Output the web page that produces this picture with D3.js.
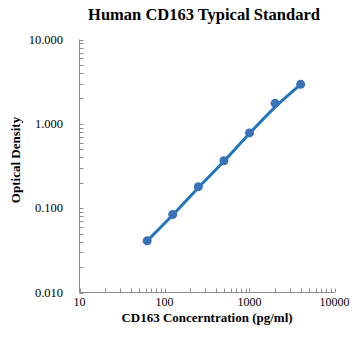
<!DOCTYPE html>
<html><head><meta charset="utf-8">
<script src="https://cdn.jsdelivr.net/npm/d3@7"></script>
<style>body{margin:0;background:#fff}svg{display:block}</style>
</head><body>
<svg id="c" width="364" height="341"></svg>
<script>
const concentrations = [62.5, 125, 250, 500, 1000, 2000, 4000];
const odValues = [0.041, 0.084, 0.18, 0.365, 0.78, 1.75, 2.94];
const fitValues = [0.041, 0.083, 0.175, 0.36, 0.77, 1.58, 2.94];
const xTickValues = [10, 100, 1000, 10000];
const yTickValues = [0.01, 0.1, 1, 10];
const yTickLabels = ["0.010", "0.100", "1.000", "10.000"];
const title = "Human CD163 Typical Standard";
const xLabel = "CD163 Concerntration (pg/ml)";
const yLabel = "Optical Density";

const svg = d3.select("#c");
const L = 79.5, R = 334.5, T = 39.5, B = 292.5;
const x = d3.scaleLog().domain([10, 10000]).range([L, R]);
const y = d3.scaleLog().domain([0.01, 10]).range([B, T]);
const font = "'Liberation Serif','Times New Roman',serif";
const axisColor = "#8c8c8c";

function minor(lo, hi) {
  const out = [];
  for (let d = lo; d < hi; d *= 10) for (let k = 1; k <= 10; k++) out.push(d * k);
  return Array.from(new Set(out.map(v => +v.toPrecision(6))));
}

const g = svg.append("g");
g.append("line").attr("x1", L).attr("x2", L).attr("y1", T).attr("y2", B).attr("stroke", axisColor);
g.append("line").attr("x1", L).attr("x2", R).attr("y1", B).attr("y2", B).attr("stroke", axisColor);
g.selectAll(".yt").data(minor(0.01, 10)).enter().append("line")
  .attr("x1", L).attr("x2", L + 4).attr("y1", d => Math.round(y(d)) + 0.5).attr("y2", d => Math.round(y(d)) + 0.5)
  .attr("stroke", axisColor);
g.selectAll(".xt").data(minor(10, 10000)).enter().append("line")
  .attr("y1", B).attr("y2", B - 4).attr("x1", d => Math.round(x(d)) + 0.5).attr("x2", d => Math.round(x(d)) + 0.5)
  .attr("stroke", axisColor);

g.selectAll(".yl").data(yTickValues).enter().append("text")
  .attr("x", 63).attr("y", d => y(d) + 4)
  .attr("text-anchor", "end").attr("font-family", font).attr("font-size", 12.5)
  .text((d, i) => yTickLabels[i]);
g.selectAll(".xl").data(xTickValues).enter().append("text")
  .attr("x", d => x(d)).attr("y", 306)
  .attr("text-anchor", "middle").attr("font-family", font).attr("font-size", 12)
  .text(d => d);

svg.append("text").attr("x", 204).attr("y", 20).attr("text-anchor", "middle")
  .attr("font-family", font).attr("font-size", 16.5).attr("font-weight", "bold").text(title);
svg.append("text").attr("x", 207).attr("y", 321.5).attr("text-anchor", "middle")
  .attr("font-family", font).attr("font-size", 13).attr("font-weight", "bold").text(xLabel);
svg.append("text").attr("transform", "translate(20,160) rotate(-90)").attr("text-anchor", "middle")
  .attr("font-family", font).attr("font-size", 13).attr("font-weight", "bold").text(yLabel);

const fitPts = concentrations.map((c, i) => [x(c), y(fitValues[i])]);
svg.append("path").attr("d", d3.line().curve(d3.curveCatmullRom)(fitPts))
  .attr("fill", "none").attr("stroke", "#2176BF").attr("stroke-width", 3).attr("stroke-linecap", "round");
const pts = concentrations.map((c, i) => [x(c), y(odValues[i])]);
svg.selectAll(".pt").data(pts).enter().append("circle")
  .attr("cx", d => d[0]).attr("cy", d => d[1]).attr("r", 4.5)
  .attr("fill", "#3A72B8");
</script>
</body></html>
